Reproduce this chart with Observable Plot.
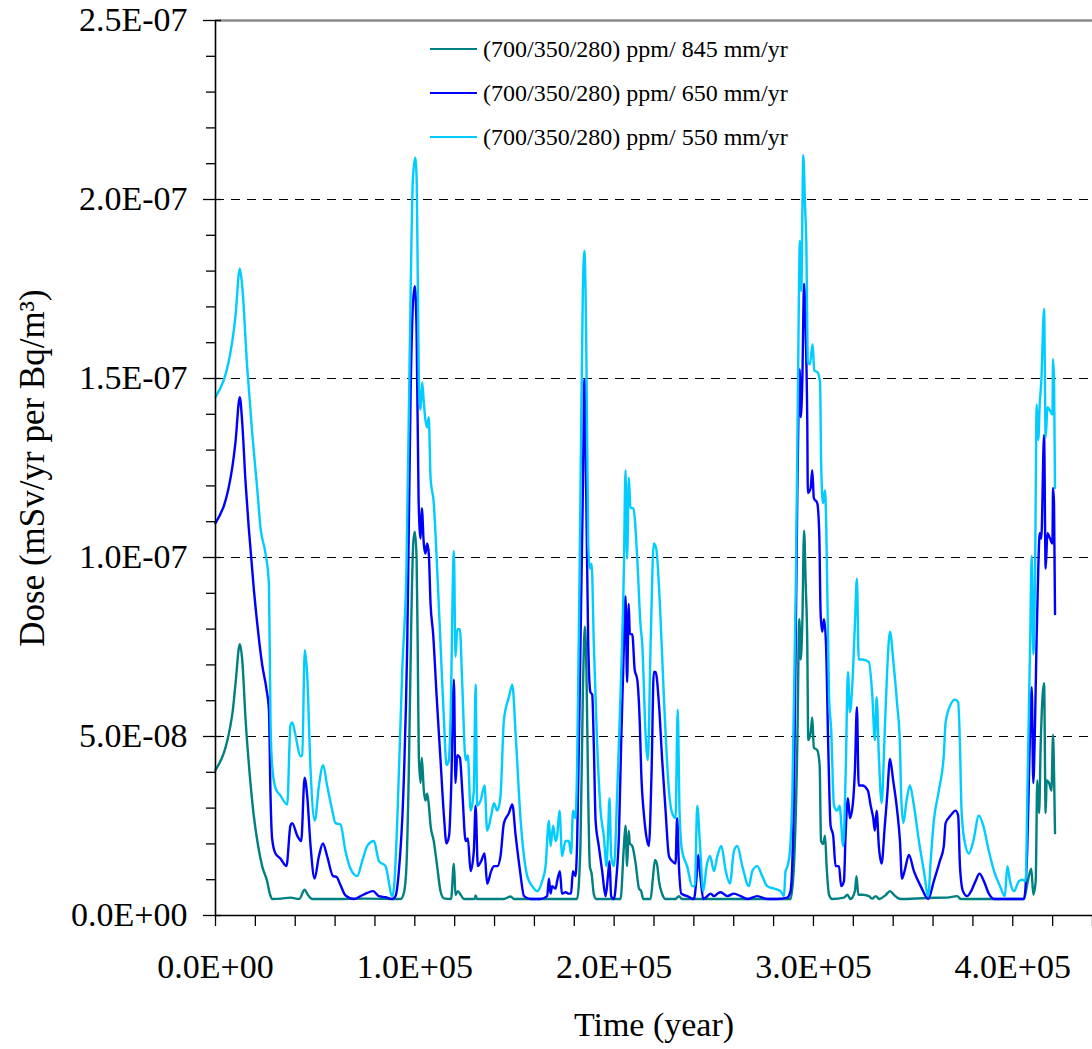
<!DOCTYPE html>
<html>
<head>
<meta charset="utf-8">
<script src="https://cdn.jsdelivr.net/npm/d3@7"></script>
<script src="https://cdn.jsdelivr.net/npm/@observablehq/plot@0.6"></script>
<style>
  html, body { margin: 0; padding: 0; background: #fff; }
  #wrap { position: relative; width: 1092px; height: 1049px; font-family: "Liberation Serif", "Times New Roman", serif; }
  #legend { position: absolute; left: 430px; top: 27px; font-size: 24px; color: #000; }
  #legend .row { display: flex; align-items: center; height: 44px; }
  #legend .sw { width: 47px; height: 0; border-top: 2.5px solid; margin-right: 6px; }
</style>
</head>
<body>
<div id="wrap"><div id="legend"></div></div>
<script>
// ---- data (time in years, dose in mSv/yr per Bq/m3) ----
const seriesNames = ["(700/350/280) ppm/ 845 mm/yr", "(700/350/280) ppm/ 650 mm/yr", "(700/350/280) ppm/ 550 mm/yr"];
const seriesColors = ["#008080", "#0000FF", "#00CCFF"];

const dose845 = [
[0,0.406e-7],[8400,0.561e-7],[10000,0.645e-7],[12200,0.758e-7],[13400,0.715e-7],[15100,0.546e-7],[17200,0.392e-7],
[19200,0.279e-7],[21400,0.194e-7],[23400,0.138e-7],[25900,0.096e-7],[27300,0.060e-7],[28400,0.046e-7],[33000,0.047e-7],
[37600,0.050e-7],[42000,0.046e-7],[44700,0.072e-7],[46300,0.058e-7],[48500,0.046e-7],[60000,0.046e-7],[75000,0.047e-7],
[92900,0.046e-7],[94600,0.065e-7],[95800,0.138e-7],[97000,0.406e-7],[98200,0.814e-7],[99200,1.039e-7],[100000,1.072e-7],
[100900,0.997e-7],[101500,0.72e-7],[102000,0.448e-7],[102900,0.370e-7],[103500,0.441e-7],[104500,0.35e-7],[105300,0.321e-7],
[106200,0.34e-7],[107000,0.31e-7],[107900,0.251e-7],[109500,0.208e-7],[111200,0.138e-7],[112900,0.068e-7],[114600,0.048e-7],
[118200,0.046e-7],[119600,0.145e-7],[120400,0.058e-7],[121600,0.068e-7],[123000,0.058e-7],[124600,0.046e-7],[130000,0.046e-7],
[130500,0.056e-7],[131200,0.046e-7],[144700,0.046e-7],[148000,0.053e-7],[150000,0.046e-7],[181400,0.046e-7],[183100,0.194e-7],
[184300,0.617e-7],[185300,0.807e-7],[186100,0.687e-7],[187000,0.335e-7],[187800,0.138e-7],[188700,0.117e-7],[189800,0.06e-7],
[191000,0.046e-7],[203200,0.046e-7],[204900,0.194e-7],[205700,0.251e-7],[206500,0.138e-7],[207300,0.237e-7],[207900,0.201e-7],
[209100,0.194e-7],[210800,0.145e-7],[212500,0.075e-7],[213600,0.068e-7],[214600,0.046e-7],[218300,0.046e-7],[219300,0.096e-7],
[220500,0.155e-7],[221600,0.140e-7],[222500,0.096e-7],[224100,0.060e-7],[225800,0.046e-7],[230800,0.046e-7],[232500,0.054e-7],
[234000,0.046e-7],[288500,0.046e-7],[290200,0.138e-7],[291900,0.476e-7],[292900,0.828e-7],[293600,0.715e-7],[294400,0.814e-7],
[295300,1.075e-7],[296100,0.927e-7],[296900,0.758e-7],[297400,0.490e-7],[298600,0.511e-7],[299400,0.553e-7],[300200,0.469e-7],
[301900,0.462e-7],[303100,0.420e-7],[303800,0.208e-7],[304900,0.20e-7],[305800,0.223e-7],[306600,0.138e-7],[307800,0.058e-7],
[309400,0.046e-7],[315300,0.050e-7],[317000,0.058e-7],[318600,0.046e-7],[320800,0.068e-7],[321600,0.110e-7],[322500,0.058e-7],
[324500,0.058e-7],[327800,0.054e-7],[329500,0.047e-7],[331200,0.054e-7],[333000,0.046e-7],[336200,0.057e-7],[338400,0.068e-7],
[340500,0.057e-7],[343700,0.046e-7],[357100,0.049e-7],[367100,0.050e-7],[372100,0.054e-7],[374000,0.046e-7],[405600,0.046e-7],
[407300,0.089e-7],[409300,0.131e-7],[410300,0.058e-7],[411500,0.096e-7],[412300,0.377e-7],[413200,0.286e-7],[414000,0.476e-7],
[415700,0.649e-7],[416500,0.286e-7],[417000,0.377e-7],[418200,0.370e-7],[419400,0.349e-7],[420200,0.504e-7],[420700,0.40e-7],
[421200,0.230e-7]
];

const dose650 = [
[0,1.096e-7],[8400,1.251e-7],[10000,1.321e-7],[12200,1.448e-7],[13400,1.377e-7],[15100,1.208e-7],[16700,1.082e-7],
[19200,0.913e-7],[21800,0.772e-7],[23400,0.701e-7],[25600,0.631e-7],[26800,0.575e-7],[27600,0.335e-7],[28400,0.215e-7],
[30100,0.173e-7],[32600,0.159e-7],[35600,0.138e-7],[37600,0.251e-7],[38500,0.258e-7],[41000,0.223e-7],[43000,0.208e-7],
[44700,0.385e-7],[46000,0.335e-7],[47700,0.194e-7],[49700,0.103e-7],[51900,0.166e-7],[53900,0.201e-7],[56000,0.166e-7],
[59000,0.110e-7],[60700,0.108e-7],[62700,0.085e-7],[65200,0.056e-7],[69400,0.046e-7],[72800,0.054e-7],[76100,0.063e-7],
[79100,0.068e-7],[82000,0.054e-7],[85300,0.051e-7],[88700,0.046e-7],[90300,0.054e-7],[92000,0.124e-7],[94200,0.335e-7],
[96200,0.758e-7],[97900,1.462e-7],[99000,1.701e-7],[100000,1.758e-7],[100900,1.631e-7],[101900,1.16e-7],[102900,1.053e-7],
[103500,1.138e-7],[104500,1.039e-7],[105300,1.011e-7],[106200,1.039e-7],[107000,1.011e-7],[107900,0.870e-7],[109200,0.786e-7],
[110900,0.617e-7],[112900,0.434e-7],[114600,0.279e-7],[115900,0.201e-7],[117200,0.223e-7],[118200,0.349e-7],[119600,0.659e-7],
[120400,0.370e-7],[121300,0.448e-7],[122600,0.441e-7],[123800,0.349e-7],[125500,0.208e-7],[126600,0.215e-7],[128000,0.124e-7],
[129600,0.180e-7],[130500,0.307e-7],[131600,0.138e-7],[133300,0.152e-7],[135000,0.173e-7],[136300,0.089e-7],[138300,0.124e-7],
[139700,0.138e-7],[141400,0.138e-7],[143000,0.166e-7],[144700,0.258e-7],[147200,0.286e-7],[148900,0.310e-7],[150600,0.223e-7],
[152800,0.124e-7],[154800,0.054e-7],[158100,0.046e-7],[163100,0.046e-7],[166400,0.054e-7],[167300,0.103e-7],[168100,0.061e-7],
[168900,0.082e-7],[170600,0.075e-7],[171400,0.096e-7],[172800,0.124e-7],[173800,0.061e-7],[175600,0.065e-7],[177300,0.061e-7],
[178400,0.061e-7],[179300,0.124e-7],[180600,0.110e-7],[181400,0.194e-7],[183100,0.758e-7],[184300,1.180e-7],[185100,1.497e-7],
[186000,1.180e-7],[187000,0.758e-7],[188100,0.624e-7],[189000,0.617e-7],[189800,0.476e-7],[190700,0.265e-7],[192300,0.194e-7],
[194000,0.124e-7],[195700,0.054e-7],[196900,0.110e-7],[197700,0.152e-7],[198500,0.054e-7],[199900,0.046e-7],[201200,0.110e-7],
[202400,0.223e-7],[203500,0.476e-7],[204900,0.758e-7],[205700,0.892e-7],[206500,0.652e-7],[207300,0.870e-7],[207900,0.786e-7],
[209100,0.786e-7],[210300,0.687e-7],[211600,0.659e-7],[212900,0.532e-7],[213600,0.399e-7],[215000,0.279e-7],[216100,0.223e-7],
[217400,0.194e-7],[218800,0.406e-7],[219900,0.680e-7],[220800,0.680e-7],[222500,0.589e-7],[224100,0.434e-7],[225800,0.293e-7],
[227500,0.166e-7],[229100,0.152e-7],[230800,0.145e-7],[231600,0.272e-7],[232500,0.138e-7],[233700,0.061e-7],[236700,0.054e-7],
[240000,0.046e-7],[241400,0.110e-7],[242200,0.169e-7],[243400,0.103e-7],[244700,0.046e-7],[246700,0.054e-7],[248400,0.061e-7],
[250100,0.054e-7],[251800,0.061e-7],[253400,0.065e-7],[256800,0.054e-7],[260100,0.061e-7],[263500,0.054e-7],[266800,0.046e-7],
[271800,0.054e-7],[276800,0.046e-7],[281800,0.046e-7],[286900,0.050e-7],[288500,0.068e-7],[290200,0.335e-7],[291900,1.180e-7],
[293100,1.525e-7],[293600,1.392e-7],[294400,1.490e-7],[295300,1.765e-7],[296100,1.631e-7],[296900,1.377e-7],[297200,1.180e-7],
[298600,1.194e-7],[299400,1.244e-7],[300200,1.166e-7],[301900,1.152e-7],[302900,1.068e-7],[303600,0.842e-7],[304400,0.793e-7],
[305300,0.828e-7],[306300,0.758e-7],[307400,0.476e-7],[308600,0.251e-7],[309900,0.223e-7],[311100,0.138e-7],[312800,0.138e-7],
[313900,0.082e-7],[315300,0.096e-7],[316100,0.223e-7],[317300,0.328e-7],[318300,0.272e-7],[319800,0.314e-7],[320800,0.406e-7],
[321800,0.582e-7],[322700,0.363e-7],[324500,0.363e-7],[327300,0.349e-7],[328700,0.307e-7],[330000,0.272e-7],[330800,0.237e-7],
[331700,0.293e-7],[332800,0.194e-7],[334200,0.145e-7],[335700,0.244e-7],[337000,0.335e-7],[338400,0.437e-7],[340000,0.377e-7],
[342000,0.293e-7],[343400,0.208e-7],[344400,0.103e-7],[345700,0.124e-7],[347900,0.169e-7],[350400,0.124e-7],[353800,0.082e-7],
[357600,0.046e-7],[360400,0.096e-7],[363400,0.152e-7],[365400,0.194e-7],[366300,0.258e-7],[368800,0.279e-7],[371300,0.293e-7],
[372600,0.279e-7],[373500,0.138e-7],[375000,0.068e-7],[377100,0.054e-7],[379100,0.068e-7],[381300,0.096e-7],[383300,0.117e-7],
[385500,0.096e-7],[388000,0.061e-7],[390600,0.046e-7],[397300,0.046e-7],[405600,0.046e-7],[407300,0.194e-7],[408500,0.476e-7],
[409500,0.638e-7],[410300,0.370e-7],[411200,0.546e-7],[412000,0.786e-7],[412800,0.969e-7],[413500,1.068e-7],[414300,1.053e-7],
[415700,1.342e-7],[416500,0.969e-7],[417400,1.068e-7],[418700,1.053e-7],[419900,1.039e-7],[420200,1.194e-7],[420700,1.15e-7],
[421200,0.842e-7]
];

const dose550 = [
[0,1.448e-7],[8400,1.603e-7],[10000,1.673e-7],[12200,1.807e-7],[13400,1.758e-7],[15900,1.532e-7],[18400,1.349e-7],
[20900,1.194e-7],[22600,1.082e-7],[25100,1.011e-7],[26800,0.927e-7],[27600,0.546e-7],[28400,0.420e-7],[30100,0.356e-7],
[32600,0.335e-7],[36000,0.310e-7],[37600,0.532e-7],[38500,0.539e-7],[40100,0.504e-7],[42600,0.445e-7],[43500,0.448e-7],
[44800,0.741e-7],[46000,0.673e-7],[47700,0.406e-7],[49800,0.265e-7],[51900,0.363e-7],[54000,0.420e-7],[56000,0.363e-7],
[58600,0.293e-7],[60200,0.258e-7],[62700,0.254e-7],[65200,0.180e-7],[67700,0.131e-7],[71100,0.110e-7],[73600,0.152e-7],
[76100,0.194e-7],[79500,0.208e-7],[82000,0.152e-7],[85300,0.138e-7],[88700,0.054e-7],[89800,0.096e-7],[91200,0.265e-7],
[93700,0.687e-7],[95800,0.969e-7],[97900,1.744e-7],[99000,2.054e-7],[100200,2.117e-7],[101000,2.04e-7],[102000,1.50e-7],
[102900,1.413e-7],[103700,1.49e-7],[104500,1.434e-7],[105300,1.385e-7],[106200,1.363e-7],[107000,1.392e-7],[107900,1.223e-7],
[109500,1.152e-7],[111200,0.969e-7],[112900,0.758e-7],[114600,0.546e-7],[115900,0.420e-7],[117100,0.434e-7],[117900,0.546e-7],
[119600,1.018e-7],[120400,0.723e-7],[121300,0.800e-7],[122600,0.800e-7],[123800,0.645e-7],[125500,0.434e-7],[126600,0.448e-7],
[128000,0.293e-7],[129600,0.349e-7],[130500,0.645e-7],[131300,0.307e-7],[133000,0.321e-7],[135000,0.363e-7],[136300,0.237e-7],
[138300,0.279e-7],[139700,0.314e-7],[141400,0.293e-7],[143000,0.335e-7],[144700,0.546e-7],[147200,0.610e-7],[148900,0.645e-7],
[150600,0.504e-7],[153100,0.265e-7],[156400,0.110e-7],[158900,0.082e-7],[161400,0.068e-7],[163900,0.096e-7],[165600,0.138e-7],
[167300,0.265e-7],[168100,0.194e-7],[169400,0.251e-7],[170600,0.208e-7],[171400,0.222e-7],[172600,0.293e-7],[173900,0.166e-7],
[175600,0.208e-7],[177300,0.208e-7],[178400,0.173e-7],[179400,0.293e-7],[180600,0.272e-7],[181400,0.406e-7],[183100,1.180e-7],
[184300,1.744e-7],[185100,1.856e-7],[186000,1.603e-7],[187000,1.039e-7],[187800,0.969e-7],[188700,0.983e-7],[189800,0.758e-7],
[191500,0.476e-7],[193200,0.293e-7],[194800,0.223e-7],[196200,0.138e-7],[196900,0.223e-7],[197700,0.328e-7],[198500,0.166e-7],
[199900,0.138e-7],[201500,0.335e-7],[203200,0.617e-7],[204900,0.969e-7],[205700,1.244e-7],[206500,0.997e-7],[207400,1.223e-7],
[208200,1.138e-7],[209600,1.138e-7],[211600,0.997e-7],[213200,0.814e-7],[214100,0.758e-7],[215800,0.504e-7],[216900,0.434e-7],
[218300,0.758e-7],[219900,1.039e-7],[221100,1.025e-7],[223300,0.828e-7],[224900,0.617e-7],[227500,0.349e-7],[229100,0.286e-7],
[230800,0.272e-7],[231900,0.575e-7],[232800,0.293e-7],[234100,0.180e-7],[236600,0.138e-7],[239200,0.082e-7],[240500,0.082e-7],
[241700,0.307e-7],[243100,0.194e-7],[244700,0.068e-7],[246400,0.138e-7],[248100,0.166e-7],[250100,0.124e-7],[251800,0.166e-7],
[253800,0.194e-7],[256000,0.124e-7],[258100,0.089e-7],[260100,0.180e-7],[261800,0.194e-7],[264300,0.138e-7],[267600,0.082e-7],
[269300,0.124e-7],[271800,0.138e-7],[274300,0.110e-7],[276800,0.082e-7],[280200,0.075e-7],[283500,0.068e-7],[285200,0.054e-7],
[286000,0.124e-7],[287000,0.138e-7],[288200,0.180e-7],[289400,0.335e-7],[291100,0.899e-7],[292200,1.462e-7],[293200,1.884e-7],
[293900,1.744e-7],[294900,2.124e-7],[295800,1.98e-7],[296400,1.884e-7],[297200,1.546e-7],[298200,1.54e-7],[299600,1.596e-7],
[300400,1.522e-7],[302000,1.518e-7],[303300,1.490e-7],[303900,1.251e-7],[304800,1.152e-7],[305800,1.187e-7],[306400,1.096e-7],
[307800,0.617e-7],[308900,0.518e-7],[310300,0.307e-7],[311900,0.293e-7],[313100,0.307e-7],[314900,0.194e-7],[316200,0.406e-7],
[317300,0.680e-7],[318300,0.568e-7],[319500,0.645e-7],[320800,0.814e-7],[321800,0.941e-7],[322700,0.715e-7],[324500,0.715e-7],
[327800,0.708e-7],[329500,0.617e-7],[330800,0.490e-7],[331700,0.610e-7],[332800,0.448e-7],[334200,0.314e-7],[335700,0.504e-7],
[337000,0.687e-7],[338400,0.793e-7],[340000,0.715e-7],[342000,0.589e-7],[343400,0.476e-7],[344000,0.335e-7],[345100,0.258e-7],
[346700,0.321e-7],[348400,0.363e-7],[350400,0.307e-7],[352900,0.208e-7],[355400,0.124e-7],[357600,0.054e-7],[358800,0.152e-7],
[360400,0.265e-7],[362900,0.349e-7],[365400,0.448e-7],[366300,0.539e-7],[368800,0.589e-7],[371000,0.603e-7],[372600,0.596e-7],
[373500,0.476e-7],[374300,0.293e-7],[375800,0.208e-7],[378000,0.173e-7],[380200,0.208e-7],[383000,0.279e-7],[385200,0.251e-7],
[388000,0.180e-7],[390600,0.124e-7],[393600,0.082e-7],[396000,0.054e-7],[397300,0.138e-7],[398600,0.096e-7],[400600,0.068e-7],
[403100,0.096e-7],[404800,0.100e-7],[406500,0.096e-7],[407300,0.335e-7],[408700,0.758e-7],[409500,1.004e-7],[410300,0.730e-7],
[411200,0.969e-7],[412000,1.427e-7],[412800,1.328e-7],[413500,1.427e-7],[414300,1.490e-7],[415700,1.694e-7],[416500,1.335e-7],
[417400,1.420e-7],[418700,1.41e-7],[419900,1.399e-7],[420200,1.554e-7],[420700,1.50e-7],[421200,1.194e-7]
];

const yMajorTicks = [0, 0.5e-7, 1.0e-7, 1.5e-7, 2.0e-7, 2.5e-7];
const yMinorTicks = d3.range(0, 26).map(i => i * 1e-8).filter(v => Math.abs(v / 5e-8 - Math.round(v / 5e-8)) > 1e-6);
const xMinorTicks = d3.range(0, 23).map(i => i * 20000);
const xLabelTicks = [0, 100000, 200000, 300000, 400000];
const gridValues = [0.5e-7, 1.0e-7, 1.5e-7, 2.0e-7];
const xTitle = "Time (year)";
const yTitle = "Dose (mSv/yr per Bq/m³)";

// ---- build table ----
const allSeries = [dose845, dose650, dose550];
const rows = [];
allSeries.forEach((s, i) => s.forEach(([t, d]) => rows.push({series: seriesNames[i], time: t, dose: d})));

function sci(d) {
  if (d === 0) return "0.0E+00";
  const e = Math.floor(Math.log10(Math.abs(d)) + 1e-9);
  const m = d / Math.pow(10, e);
  return m.toFixed(1) + "E" + (e < 0 ? "-" : "+") + String(Math.abs(e)).padStart(2, "0");
}

const font = "'Liberation Serif', 'Times New Roman', serif";

const chart = Plot.plot({
  width: 1092,
  height: 1049,
  marginLeft: 215,
  marginRight: 0,
  marginTop: 20,
  marginBottom: 134,
  style: {fontFamily: font, fontSize: "34px", background: "#fff", color: "#000", overflow: "visible"},
  x: {domain: [0, 440000], axis: null, label: null},
  y: {domain: [0, 2.5e-7], axis: null, label: null},
  color: {domain: seriesNames, range: seriesColors},
  marks: [
    Plot.ruleY(gridValues, {stroke: "#000", strokeWidth: 1, strokeDasharray: "9,7"}),
    Plot.ruleY([2.5e-7], {stroke: "#8a8a8a", strokeWidth: 2.5}),
    Plot.line(rows, {x: "time", y: "dose", z: "series", stroke: "series", strokeWidth: 2.4, curve: "monotone-x"}),
    Plot.ruleX([0], {stroke: "#000", strokeWidth: 1.6}),
    Plot.ruleY([0], {stroke: "#000", strokeWidth: 1.6}),
    Plot.axisY(yMajorTicks, {tickSize: 18, dx: 6, tickFormat: () => "", label: null, strokeWidth: 1.3}),
    Plot.axisY(yMinorTicks, {tickSize: 9, tickFormat: () => "", label: null, strokeWidth: 1.3}),
    Plot.axisY(yMajorTicks, {tickSize: 0, tickPadding: 28, tickFormat: sci, label: null, fontSize: 34}),
    Plot.axisX(xMinorTicks, {tickSize: 11, tickFormat: () => "", label: null, strokeWidth: 1.3}),
    Plot.axisX(xLabelTicks, {tickSize: 0, tickPadding: 38, tickFormat: sci, label: null, fontSize: 34}),
    Plot.text([xTitle], {frameAnchor: "bottom", dy: 120, fontSize: 34, fill: "#000"}),
    Plot.text([yTitle], {frameAnchor: "left", rotate: -90, dx: -183, textAnchor: "middle", fontSize: 35, fill: "#000"})
  ]
});

const wrap = document.getElementById("wrap");
wrap.insertBefore(chart, wrap.firstChild);

const legend = document.getElementById("legend");
seriesNames.forEach((name, i) => {
  const row = document.createElement("div");
  row.className = "row";
  const sw = document.createElement("span");
  sw.className = "sw";
  sw.style.borderTopColor = seriesColors[i];
  const tx = document.createElement("span");
  tx.textContent = name;
  row.appendChild(sw);
  row.appendChild(tx);
  legend.appendChild(row);
});
</script>
</body>
</html>
